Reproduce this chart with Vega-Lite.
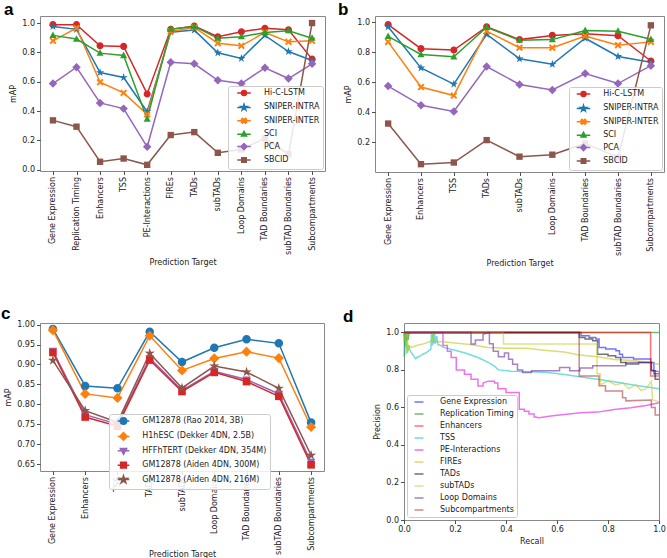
{
"$schema": "https://vega.github.io/schema/vega-lite/v6.json",
"background": "white",
"padding": {"left": 0, "top": 0, "right": 2, "bottom": 0},
"bounds": "flush",
"spacing": 307,
"datasets": {
"a": [
{"method":"Hi-C-LSTM","target":"Gene Expression","mAP":0.989},{"method":"Hi-C-LSTM","target":"Replication Timing","mAP":0.989},{"method":"Hi-C-LSTM","target":"Enhancers","mAP":0.845},{"method":"Hi-C-LSTM","target":"TSS","mAP":0.841},{"method":"Hi-C-LSTM","target":"PE-Interactions","mAP":0.517},{"method":"Hi-C-LSTM","target":"FIREs","mAP":0.957},{"method":"Hi-C-LSTM","target":"TADs","mAP":0.98},{"method":"Hi-C-LSTM","target":"subTADs","mAP":0.907},{"method":"Hi-C-LSTM","target":"Loop Domains","mAP":0.941},{"method":"Hi-C-LSTM","target":"TAD Boundaries","mAP":0.964},{"method":"Hi-C-LSTM","target":"subTAD Boundaries","mAP":0.954},{"method":"Hi-C-LSTM","target":"Subcompartments","mAP":0.754},
{"method":"SNIPER-INTRA","target":"Gene Expression","mAP":0.977},{"method":"SNIPER-INTRA","target":"Replication Timing","mAP":0.957},{"method":"SNIPER-INTRA","target":"Enhancers","mAP":0.663},{"method":"SNIPER-INTRA","target":"TSS","mAP":0.629},{"method":"SNIPER-INTRA","target":"PE-Interactions","mAP":0.396},{"method":"SNIPER-INTRA","target":"FIREs","mAP":0.938},{"method":"SNIPER-INTRA","target":"TADs","mAP":0.952},{"method":"SNIPER-INTRA","target":"subTADs","mAP":0.797},{"method":"SNIPER-INTRA","target":"Loop Domains","mAP":0.759},{"method":"SNIPER-INTRA","target":"TAD Boundaries","mAP":0.916},{"method":"SNIPER-INTRA","target":"subTAD Boundaries","mAP":0.806},{"method":"SNIPER-INTRA","target":"Subcompartments","mAP":0.745},
{"method":"SNIPER-INTER","target":"Gene Expression","mAP":0.879},{"method":"SNIPER-INTER","target":"Replication Timing","mAP":0.966},{"method":"SNIPER-INTER","target":"Enhancers","mAP":0.597},{"method":"SNIPER-INTER","target":"TSS","mAP":0.524},{"method":"SNIPER-INTER","target":"PE-Interactions","mAP":0.378},{"method":"SNIPER-INTER","target":"FIREs","mAP":0.943},{"method":"SNIPER-INTER","target":"TADs","mAP":0.97},{"method":"SNIPER-INTER","target":"subTADs","mAP":0.863},{"method":"SNIPER-INTER","target":"Loop Domains","mAP":0.845},{"method":"SNIPER-INTER","target":"TAD Boundaries","mAP":0.936},{"method":"SNIPER-INTER","target":"subTAD Boundaries","mAP":0.872},{"method":"SNIPER-INTER","target":"Subcompartments","mAP":0.879},
{"method":"SCI","target":"Gene Expression","mAP":0.916},{"method":"SCI","target":"Replication Timing","mAP":0.891},{"method":"SCI","target":"Enhancers","mAP":0.795},{"method":"SCI","target":"TSS","mAP":0.779},{"method":"SCI","target":"PE-Interactions","mAP":0.346},{"method":"SCI","target":"FIREs","mAP":0.959},{"method":"SCI","target":"TADs","mAP":0.977},{"method":"SCI","target":"subTADs","mAP":0.897},{"method":"SCI","target":"Loop Domains","mAP":0.907},{"method":"SCI","target":"TAD Boundaries","mAP":0.936},{"method":"SCI","target":"subTAD Boundaries","mAP":0.948},{"method":"SCI","target":"Subcompartments","mAP":0.897},
{"method":"PCA","target":"Gene Expression","mAP":0.588},{"method":"PCA","target":"Replication Timing","mAP":0.699},{"method":"PCA","target":"Enhancers","mAP":0.456},{"method":"PCA","target":"TSS","mAP":0.417},{"method":"PCA","target":"PE-Interactions","mAP":0.157},{"method":"PCA","target":"FIREs","mAP":0.733},{"method":"PCA","target":"TADs","mAP":0.722},{"method":"PCA","target":"subTADs","mAP":0.61},{"method":"PCA","target":"Loop Domains","mAP":0.588},{"method":"PCA","target":"TAD Boundaries","mAP":0.695},{"method":"PCA","target":"subTAD Boundaries","mAP":0.622},{"method":"PCA","target":"Subcompartments","mAP":0.722},
{"method":"SBCID","target":"Gene Expression","mAP":0.337},{"method":"SBCID","target":"Replication Timing","mAP":0.294},{"method":"SBCID","target":"Enhancers","mAP":0.055},{"method":"SBCID","target":"TSS","mAP":0.077},{"method":"SBCID","target":"PE-Interactions","mAP":0.034},{"method":"SBCID","target":"FIREs","mAP":0.237},{"method":"SBCID","target":"TADs","mAP":0.257},{"method":"SBCID","target":"subTADs","mAP":0.116},{"method":"SBCID","target":"Loop Domains","mAP":0.139},{"method":"SBCID","target":"TAD Boundaries","mAP":0.214},{"method":"SBCID","target":"subTAD Boundaries","mAP":0.107},{"method":"SBCID","target":"Subcompartments","mAP":1.0}
],
"b": [
{"method":"Hi-C-LSTM","target":"Gene Expression","mAP":0.983},{"method":"Hi-C-LSTM","target":"Enhancers","mAP":0.823},{"method":"Hi-C-LSTM","target":"TSS","mAP":0.814},{"method":"Hi-C-LSTM","target":"TADs","mAP":0.968},{"method":"Hi-C-LSTM","target":"subTADs","mAP":0.883},{"method":"Hi-C-LSTM","target":"Loop Domains","mAP":0.911},{"method":"Hi-C-LSTM","target":"TAD Boundaries","mAP":0.922},{"method":"Hi-C-LSTM","target":"subTAD Boundaries","mAP":0.909},{"method":"Hi-C-LSTM","target":"Subcompartments","mAP":0.741},
{"method":"SNIPER-INTRA","target":"Gene Expression","mAP":0.968},{"method":"SNIPER-INTRA","target":"Enhancers","mAP":0.695},{"method":"SNIPER-INTRA","target":"TSS","mAP":0.587},{"method":"SNIPER-INTRA","target":"TADs","mAP":0.918},{"method":"SNIPER-INTRA","target":"subTADs","mAP":0.756},{"method":"SNIPER-INTRA","target":"Loop Domains","mAP":0.719},{"method":"SNIPER-INTRA","target":"TAD Boundaries","mAP":0.892},{"method":"SNIPER-INTRA","target":"subTAD Boundaries","mAP":0.771},{"method":"SNIPER-INTRA","target":"Subcompartments","mAP":0.732},
{"method":"SNIPER-INTER","target":"Gene Expression","mAP":0.868},{"method":"SNIPER-INTER","target":"Enhancers","mAP":0.568},{"method":"SNIPER-INTER","target":"TSS","mAP":0.511},{"method":"SNIPER-INTER","target":"TADs","mAP":0.939},{"method":"SNIPER-INTER","target":"subTADs","mAP":0.829},{"method":"SNIPER-INTER","target":"Loop Domains","mAP":0.829},{"method":"SNIPER-INTER","target":"TAD Boundaries","mAP":0.907},{"method":"SNIPER-INTER","target":"subTAD Boundaries","mAP":0.846},{"method":"SNIPER-INTER","target":"Subcompartments","mAP":0.868},
{"method":"SCI","target":"Gene Expression","mAP":0.905},{"method":"SCI","target":"Enhancers","mAP":0.784},{"method":"SCI","target":"TSS","mAP":0.769},{"method":"SCI","target":"TADs","mAP":0.965},{"method":"SCI","target":"subTADs","mAP":0.879},{"method":"SCI","target":"Loop Domains","mAP":0.883},{"method":"SCI","target":"TAD Boundaries","mAP":0.944},{"method":"SCI","target":"subTAD Boundaries","mAP":0.939},{"method":"SCI","target":"Subcompartments","mAP":0.885},
{"method":"PCA","target":"Gene Expression","mAP":0.574},{"method":"PCA","target":"Enhancers","mAP":0.446},{"method":"PCA","target":"TSS","mAP":0.405},{"method":"PCA","target":"TADs","mAP":0.704},{"method":"PCA","target":"subTADs","mAP":0.585},{"method":"PCA","target":"Loop Domains","mAP":0.548},{"method":"PCA","target":"TAD Boundaries","mAP":0.658},{"method":"PCA","target":"subTAD Boundaries","mAP":0.591},{"method":"PCA","target":"Subcompartments","mAP":0.71},
{"method":"SBCID","target":"Gene Expression","mAP":0.325},{"method":"SBCID","target":"Enhancers","mAP":0.055},{"method":"SBCID","target":"TSS","mAP":0.066},{"method":"SBCID","target":"TADs","mAP":0.215},{"method":"SBCID","target":"subTADs","mAP":0.105},{"method":"SBCID","target":"Loop Domains","mAP":0.118},{"method":"SBCID","target":"TAD Boundaries","mAP":0.193},{"method":"SBCID","target":"subTAD Boundaries","mAP":0.1},{"method":"SBCID","target":"Subcompartments","mAP":0.978}
],
"c": [
{"data":"GM12878 (Rao 2014, 3B)","target":"Gene Expression","mAP":0.989},{"data":"GM12878 (Rao 2014, 3B)","target":"Enhancers","mAP":0.846},{"data":"GM12878 (Rao 2014, 3B)","target":"TSS","mAP":0.84},{"data":"GM12878 (Rao 2014, 3B)","target":"TADs","mAP":0.982},{"data":"GM12878 (Rao 2014, 3B)","target":"subTADs","mAP":0.906},{"data":"GM12878 (Rao 2014, 3B)","target":"Loop Domains","mAP":0.942},{"data":"GM12878 (Rao 2014, 3B)","target":"TAD Boundaries","mAP":0.963},{"data":"GM12878 (Rao 2014, 3B)","target":"subTAD Boundaries","mAP":0.953},{"data":"GM12878 (Rao 2014, 3B)","target":"Subcompartments","mAP":0.754},
{"data":"H1hESC (Dekker 4DN, 2.5B)","target":"Gene Expression","mAP":0.986},{"data":"H1hESC (Dekker 4DN, 2.5B)","target":"Enhancers","mAP":0.826},{"data":"H1hESC (Dekker 4DN, 2.5B)","target":"TSS","mAP":0.816},{"data":"H1hESC (Dekker 4DN, 2.5B)","target":"TADs","mAP":0.972},{"data":"H1hESC (Dekker 4DN, 2.5B)","target":"subTADs","mAP":0.885},{"data":"H1hESC (Dekker 4DN, 2.5B)","target":"Loop Domains","mAP":0.915},{"data":"H1hESC (Dekker 4DN, 2.5B)","target":"TAD Boundaries","mAP":0.932},{"data":"H1hESC (Dekker 4DN, 2.5B)","target":"subTAD Boundaries","mAP":0.916},{"data":"H1hESC (Dekker 4DN, 2.5B)","target":"Subcompartments","mAP":0.743},
{"data":"HFFhTERT (Dekker 4DN, 354M)","target":"Gene Expression","mAP":0.934},{"data":"HFFhTERT (Dekker 4DN, 354M)","target":"Enhancers","mAP":0.774},{"data":"HFFhTERT (Dekker 4DN, 354M)","target":"TSS","mAP":0.75},{"data":"HFFhTERT (Dekker 4DN, 354M)","target":"TADs","mAP":0.916},{"data":"HFFhTERT (Dekker 4DN, 354M)","target":"subTADs","mAP":0.835},{"data":"HFFhTERT (Dekker 4DN, 354M)","target":"Loop Domains","mAP":0.883},{"data":"HFFhTERT (Dekker 4DN, 354M)","target":"TAD Boundaries","mAP":0.862},{"data":"HFFhTERT (Dekker 4DN, 354M)","target":"subTAD Boundaries","mAP":0.826},{"data":"HFFhTERT (Dekker 4DN, 354M)","target":"Subcompartments","mAP":0.655},
{"data":"GM12878 (Aiden 4DN, 300M)","target":"Gene Expression","mAP":0.93},{"data":"GM12878 (Aiden 4DN, 300M)","target":"Enhancers","mAP":0.768},{"data":"GM12878 (Aiden 4DN, 300M)","target":"TSS","mAP":0.745},{"data":"GM12878 (Aiden 4DN, 300M)","target":"TADs","mAP":0.911},{"data":"GM12878 (Aiden 4DN, 300M)","target":"subTADs","mAP":0.832},{"data":"GM12878 (Aiden 4DN, 300M)","target":"Loop Domains","mAP":0.88},{"data":"GM12878 (Aiden 4DN, 300M)","target":"TAD Boundaries","mAP":0.857},{"data":"GM12878 (Aiden 4DN, 300M)","target":"subTAD Boundaries","mAP":0.82},{"data":"GM12878 (Aiden 4DN, 300M)","target":"Subcompartments","mAP":0.648},
{"data":"GM12878 (Aiden 4DN, 216M)","target":"Gene Expression","mAP":0.91},{"data":"GM12878 (Aiden 4DN, 216M)","target":"Enhancers","mAP":0.784},{"data":"GM12878 (Aiden 4DN, 216M)","target":"TSS","mAP":0.755},{"data":"GM12878 (Aiden 4DN, 216M)","target":"TADs","mAP":0.928},{"data":"GM12878 (Aiden 4DN, 216M)","target":"subTADs","mAP":0.841},{"data":"GM12878 (Aiden 4DN, 216M)","target":"Loop Domains","mAP":0.896},{"data":"GM12878 (Aiden 4DN, 216M)","target":"TAD Boundaries","mAP":0.881},{"data":"GM12878 (Aiden 4DN, 216M)","target":"subTAD Boundaries","mAP":0.84},{"data":"GM12878 (Aiden 4DN, 216M)","target":"Subcompartments","mAP":0.672}
],
"d": [
{"s":"Gene Expression","k":0,"r":0,"p":1},{"s":"Gene Expression","k":1,"r":0.694,"p":1},{"s":"Gene Expression","k":2,"r":0.694,"p":0.982},{"s":"Gene Expression","k":3,"r":0.726,"p":0.982},{"s":"Gene Expression","k":4,"r":0.726,"p":0.973},{"s":"Gene Expression","k":5,"r":0.752,"p":0.973},{"s":"Gene Expression","k":6,"r":0.752,"p":0.965},{"s":"Gene Expression","k":7,"r":0.765,"p":0.965},{"s":"Gene Expression","k":8,"r":0.765,"p":0.92},{"s":"Gene Expression","k":9,"r":0.791,"p":0.92},{"s":"Gene Expression","k":10,"r":0.791,"p":0.911},{"s":"Gene Expression","k":11,"r":0.831,"p":0.911},{"s":"Gene Expression","k":12,"r":0.831,"p":0.902},{"s":"Gene Expression","k":13,"r":0.845,"p":0.902},{"s":"Gene Expression","k":14,"r":0.845,"p":0.884},{"s":"Gene Expression","k":15,"r":0.857,"p":0.884},{"s":"Gene Expression","k":16,"r":0.857,"p":0.866},{"s":"Gene Expression","k":17,"r":0.9,"p":0.866},{"s":"Gene Expression","k":18,"r":0.9,"p":0.858},{"s":"Gene Expression","k":19,"r":0.968,"p":0.858},{"s":"Gene Expression","k":20,"r":0.968,"p":0.84},{"s":"Gene Expression","k":21,"r":0.98,"p":0.84},{"s":"Gene Expression","k":22,"r":0.98,"p":0.78},{"s":"Gene Expression","k":23,"r":1,"p":0.78},
{"s":"Replication Timing","k":0,"r":0,"p":1},{"s":"Replication Timing","k":1,"r":0.003,"p":0.93},{"s":"Replication Timing","k":2,"r":0.006,"p":1},{"s":"Replication Timing","k":3,"r":0.009,"p":0.95},{"s":"Replication Timing","k":4,"r":0.012,"p":1},{"s":"Replication Timing","k":5,"r":0.016,"p":0.96},{"s":"Replication Timing","k":6,"r":0.02,"p":1},{"s":"Replication Timing","k":7,"r":1,"p":1},
{"s":"Enhancers","k":0,"r":0,"p":1},{"s":"Enhancers","k":1,"r":0.967,"p":1},{"s":"Enhancers","k":2,"r":0.967,"p":0.768},{"s":"Enhancers","k":3,"r":1,"p":0.768},
{"s":"TSS","k":0,"r":0,"p":0.87},{"s":"TSS","k":1,"r":0.003,"p":1},{"s":"TSS","k":2,"r":0.006,"p":0.92},{"s":"TSS","k":3,"r":0.01,"p":0.98},{"s":"TSS","k":4,"r":0.013,"p":0.89},{"s":"TSS","k":5,"r":0.018,"p":0.93},{"s":"TSS","k":6,"r":0.025,"p":0.9},{"s":"TSS","k":7,"r":0.035,"p":0.88},{"s":"TSS","k":8,"r":0.045,"p":0.86},{"s":"TSS","k":9,"r":0.055,"p":0.87},{"s":"TSS","k":10,"r":0.065,"p":0.875},{"s":"TSS","k":11,"r":0.075,"p":0.885},{"s":"TSS","k":12,"r":0.085,"p":0.89},{"s":"TSS","k":13,"r":0.095,"p":0.9},{"s":"TSS","k":14,"r":0.105,"p":0.91},{"s":"TSS","k":15,"r":0.108,"p":1},{"s":"TSS","k":16,"r":0.111,"p":0.93},{"s":"TSS","k":17,"r":0.114,"p":1},{"s":"TSS","k":18,"r":0.117,"p":0.94},{"s":"TSS","k":19,"r":0.12,"p":1},{"s":"TSS","k":20,"r":0.123,"p":0.94},{"s":"TSS","k":21,"r":0.128,"p":0.98},{"s":"TSS","k":22,"r":0.133,"p":0.935},{"s":"TSS","k":23,"r":0.145,"p":0.93},{"s":"TSS","k":24,"r":0.155,"p":0.92},{"s":"TSS","k":25,"r":0.2,"p":0.905},{"s":"TSS","k":26,"r":0.24,"p":0.89},{"s":"TSS","k":27,"r":0.29,"p":0.866},{"s":"TSS","k":28,"r":0.33,"p":0.84},{"s":"TSS","k":29,"r":0.355,"p":0.82},{"s":"TSS","k":30,"r":0.37,"p":0.8},{"s":"TSS","k":31,"r":0.42,"p":0.793},{"s":"TSS","k":32,"r":0.5,"p":0.79},{"s":"TSS","k":33,"r":0.563,"p":0.786},{"s":"TSS","k":34,"r":0.63,"p":0.775},{"s":"TSS","k":35,"r":0.694,"p":0.762},{"s":"TSS","k":36,"r":0.76,"p":0.75},{"s":"TSS","k":37,"r":0.824,"p":0.737},{"s":"TSS","k":38,"r":0.9,"p":0.72},{"s":"TSS","k":39,"r":1,"p":0.7},
{"s":"PE-Interactions","k":0,"r":0,"p":1},{"s":"PE-Interactions","k":1,"r":0.153,"p":1},{"s":"PE-Interactions","k":2,"r":0.153,"p":0.93},{"s":"PE-Interactions","k":3,"r":0.17,"p":0.93},{"s":"PE-Interactions","k":4,"r":0.17,"p":0.9},{"s":"PE-Interactions","k":5,"r":0.185,"p":0.9},{"s":"PE-Interactions","k":6,"r":0.185,"p":0.866},{"s":"PE-Interactions","k":7,"r":0.205,"p":0.866},{"s":"PE-Interactions","k":8,"r":0.205,"p":0.8},{"s":"PE-Interactions","k":9,"r":0.237,"p":0.8},{"s":"PE-Interactions","k":10,"r":0.237,"p":0.777},{"s":"PE-Interactions","k":11,"r":0.263,"p":0.777},{"s":"PE-Interactions","k":12,"r":0.263,"p":0.75},{"s":"PE-Interactions","k":13,"r":0.29,"p":0.75},{"s":"PE-Interactions","k":14,"r":0.29,"p":0.714},{"s":"PE-Interactions","k":15,"r":0.31,"p":0.714},{"s":"PE-Interactions","k":16,"r":0.31,"p":0.73},{"s":"PE-Interactions","k":17,"r":0.33,"p":0.74},{"s":"PE-Interactions","k":18,"r":0.355,"p":0.74},{"s":"PE-Interactions","k":19,"r":0.355,"p":0.73},{"s":"PE-Interactions","k":20,"r":0.368,"p":0.73},{"s":"PE-Interactions","k":21,"r":0.368,"p":0.7},{"s":"PE-Interactions","k":22,"r":0.4,"p":0.7},{"s":"PE-Interactions","k":23,"r":0.4,"p":0.68},{"s":"PE-Interactions","k":24,"r":0.452,"p":0.68},{"s":"PE-Interactions","k":25,"r":0.452,"p":0.59},{"s":"PE-Interactions","k":26,"r":0.472,"p":0.59},{"s":"PE-Interactions","k":27,"r":0.472,"p":0.58},{"s":"PE-Interactions","k":28,"r":0.49,"p":0.58},{"s":"PE-Interactions","k":29,"r":0.49,"p":0.565},{"s":"PE-Interactions","k":30,"r":0.51,"p":0.565},{"s":"PE-Interactions","k":31,"r":0.51,"p":0.55},{"s":"PE-Interactions","k":32,"r":0.53,"p":0.545},{"s":"PE-Interactions","k":33,"r":0.576,"p":0.554},{"s":"PE-Interactions","k":34,"r":0.628,"p":0.562},{"s":"PE-Interactions","k":35,"r":0.694,"p":0.571},{"s":"PE-Interactions","k":36,"r":0.759,"p":0.575},{"s":"PE-Interactions","k":37,"r":0.824,"p":0.589},{"s":"PE-Interactions","k":38,"r":0.889,"p":0.598},{"s":"PE-Interactions","k":39,"r":0.95,"p":0.61},{"s":"PE-Interactions","k":40,"r":1,"p":0.625},
{"s":"FIREs","k":0,"r":0,"p":0.95},{"s":"FIREs","k":1,"r":0.004,"p":1},{"s":"FIREs","k":2,"r":0.008,"p":0.88},{"s":"FIREs","k":3,"r":0.012,"p":1},{"s":"FIREs","k":4,"r":0.016,"p":0.9},{"s":"FIREs","k":5,"r":0.02,"p":0.93},{"s":"FIREs","k":6,"r":0.03,"p":0.92},{"s":"FIREs","k":7,"r":0.05,"p":0.93},{"s":"FIREs","k":8,"r":0.08,"p":0.94},{"s":"FIREs","k":9,"r":0.11,"p":0.955},{"s":"FIREs","k":10,"r":0.113,"p":1},{"s":"FIREs","k":11,"r":0.116,"p":0.95},{"s":"FIREs","k":12,"r":0.15,"p":0.95},{"s":"FIREs","k":13,"r":0.19,"p":0.945},{"s":"FIREs","k":14,"r":0.26,"p":0.935},{"s":"FIREs","k":15,"r":0.33,"p":0.92},{"s":"FIREs","k":16,"r":0.4,"p":0.915},{"s":"FIREs","k":17,"r":0.48,"p":0.915},{"s":"FIREs","k":18,"r":0.55,"p":0.905},{"s":"FIREs","k":19,"r":0.628,"p":0.895},{"s":"FIREs","k":20,"r":0.687,"p":0.88},{"s":"FIREs","k":21,"r":0.76,"p":0.87},{"s":"FIREs","k":22,"r":0.824,"p":0.855},{"s":"FIREs","k":23,"r":0.9,"p":0.85},{"s":"FIREs","k":24,"r":0.96,"p":0.84},{"s":"FIREs","k":25,"r":1,"p":0.83},
{"s":"TADs","k":0,"r":0,"p":1},{"s":"TADs","k":1,"r":0.687,"p":1},{"s":"TADs","k":2,"r":0.687,"p":0.973},{"s":"TADs","k":3,"r":0.71,"p":0.973},{"s":"TADs","k":4,"r":0.71,"p":0.965},{"s":"TADs","k":5,"r":0.74,"p":0.965},{"s":"TADs","k":6,"r":0.74,"p":0.956},{"s":"TADs","k":7,"r":0.759,"p":0.956},{"s":"TADs","k":8,"r":0.759,"p":0.884},{"s":"TADs","k":9,"r":0.8,"p":0.884},{"s":"TADs","k":10,"r":0.8,"p":0.875},{"s":"TADs","k":11,"r":0.83,"p":0.875},{"s":"TADs","k":12,"r":0.83,"p":0.866},{"s":"TADs","k":13,"r":0.85,"p":0.866},{"s":"TADs","k":14,"r":0.85,"p":0.84},{"s":"TADs","k":15,"r":0.87,"p":0.84},{"s":"TADs","k":16,"r":0.87,"p":0.831},{"s":"TADs","k":17,"r":0.92,"p":0.831},{"s":"TADs","k":18,"r":0.92,"p":0.84},{"s":"TADs","k":19,"r":0.97,"p":0.84},{"s":"TADs","k":20,"r":0.97,"p":0.795},{"s":"TADs","k":21,"r":0.985,"p":0.795},{"s":"TADs","k":22,"r":0.985,"p":0.75},{"s":"TADs","k":23,"r":1,"p":0.75},
{"s":"subTADs","k":0,"r":0,"p":1},{"s":"subTADs","k":1,"r":0.39,"p":1},{"s":"subTADs","k":2,"r":0.39,"p":0.938},{"s":"subTADs","k":3,"r":0.757,"p":0.938},{"s":"subTADs","k":4,"r":0.757,"p":0.78},{"s":"subTADs","k":5,"r":0.77,"p":0.78},{"s":"subTADs","k":6,"r":0.77,"p":0.72},{"s":"subTADs","k":7,"r":0.8,"p":0.74},{"s":"subTADs","k":8,"r":0.83,"p":0.72},{"s":"subTADs","k":9,"r":0.86,"p":0.73},{"s":"subTADs","k":10,"r":0.88,"p":0.7},{"s":"subTADs","k":11,"r":0.91,"p":0.72},{"s":"subTADs","k":12,"r":0.93,"p":0.69},{"s":"subTADs","k":13,"r":0.95,"p":0.7},{"s":"subTADs","k":14,"r":0.97,"p":0.74},{"s":"subTADs","k":15,"r":0.975,"p":0.64},{"s":"subTADs","k":16,"r":1,"p":0.63},
{"s":"Loop Domains","k":0,"r":0,"p":1},{"s":"Loop Domains","k":1,"r":0.263,"p":1},{"s":"Loop Domains","k":2,"r":0.263,"p":0.9375},{"s":"Loop Domains","k":3,"r":0.28,"p":0.9375},{"s":"Loop Domains","k":4,"r":0.28,"p":0.96},{"s":"Loop Domains","k":5,"r":0.31,"p":0.96},{"s":"Loop Domains","k":6,"r":0.31,"p":0.99},{"s":"Loop Domains","k":7,"r":0.335,"p":1},{"s":"Loop Domains","k":8,"r":0.335,"p":0.94},{"s":"Loop Domains","k":9,"r":0.35,"p":0.94},{"s":"Loop Domains","k":10,"r":0.35,"p":0.9},{"s":"Loop Domains","k":11,"r":0.37,"p":0.9},{"s":"Loop Domains","k":12,"r":0.37,"p":0.87},{"s":"Loop Domains","k":13,"r":0.394,"p":0.87},{"s":"Loop Domains","k":14,"r":0.394,"p":0.89},{"s":"Loop Domains","k":15,"r":0.41,"p":0.89},{"s":"Loop Domains","k":16,"r":0.41,"p":0.857},{"s":"Loop Domains","k":17,"r":0.426,"p":0.857},{"s":"Loop Domains","k":18,"r":0.426,"p":0.83},{"s":"Loop Domains","k":19,"r":0.445,"p":0.83},{"s":"Loop Domains","k":20,"r":0.445,"p":0.8},{"s":"Loop Domains","k":21,"r":0.465,"p":0.8},{"s":"Loop Domains","k":22,"r":0.465,"p":0.786},{"s":"Loop Domains","k":23,"r":0.5,"p":0.786},{"s":"Loop Domains","k":24,"r":0.5,"p":0.795},{"s":"Loop Domains","k":25,"r":0.61,"p":0.795},{"s":"Loop Domains","k":26,"r":0.61,"p":0.813},{"s":"Loop Domains","k":27,"r":0.65,"p":0.813},{"s":"Loop Domains","k":28,"r":0.65,"p":0.795},{"s":"Loop Domains","k":29,"r":0.69,"p":0.795},{"s":"Loop Domains","k":30,"r":0.69,"p":0.81},{"s":"Loop Domains","k":31,"r":0.74,"p":0.81},{"s":"Loop Domains","k":32,"r":0.74,"p":0.822},{"s":"Loop Domains","k":33,"r":0.87,"p":0.822},{"s":"Loop Domains","k":34,"r":0.87,"p":0.84},{"s":"Loop Domains","k":35,"r":0.97,"p":0.84},{"s":"Loop Domains","k":36,"r":0.97,"p":0.8},{"s":"Loop Domains","k":37,"r":1,"p":0.79},
{"s":"Subcompartments","k":0,"r":0,"p":1},{"s":"Subcompartments","k":1,"r":0.687,"p":1},{"s":"Subcompartments","k":2,"r":0.687,"p":0.768},{"s":"Subcompartments","k":3,"r":0.765,"p":0.768},{"s":"Subcompartments","k":4,"r":0.765,"p":0.715},{"s":"Subcompartments","k":5,"r":0.79,"p":0.715},{"s":"Subcompartments","k":6,"r":0.79,"p":0.688},{"s":"Subcompartments","k":7,"r":0.857,"p":0.688},{"s":"Subcompartments","k":8,"r":0.857,"p":0.652},{"s":"Subcompartments","k":9,"r":0.87,"p":0.652},{"s":"Subcompartments","k":10,"r":0.87,"p":0.635},{"s":"Subcompartments","k":11,"r":0.97,"p":0.64},{"s":"Subcompartments","k":12,"r":0.97,"p":0.6},{"s":"Subcompartments","k":13,"r":0.985,"p":0.6},{"s":"Subcompartments","k":14,"r":0.985,"p":0.56},{"s":"Subcompartments","k":15,"r":1,"p":0.56}
]
},
"vconcat": [
{
"hconcat": [
{
"title": {"text": "a", "dx": -36},
"width": 285, "height": 155,
"data": {"name": "a"},
"encoding": {
"x": {"field": "target", "type": "nominal", "sort": ["Gene Expression","Replication Timing","Enhancers","TSS","PE-Interactions","FIREs","TADs","subTADs","Loop Domains","TAD Boundaries","subTAD Boundaries","Subcompartments"], "scale": {"type": "point", "padding": 0.55}, "axis": {"title": "Prediction Target", "labelAngle": -90}},
"y": {"field": "mAP", "type": "quantitative", "scale": {"domain": [-0.008, 1.048], "nice": false, "zero": false}, "axis": {"title": "mAP", "values": [0, 0.2, 0.4, 0.6, 0.8, 1.0], "format": ".1f"}}
},
"layer": [
{"mark": {"type": "line", "strokeWidth": 1.5},
"encoding": {"color": {"field": "method", "type": "nominal", "scale": {"domain": ["Hi-C-LSTM","SNIPER-INTRA","SNIPER-INTER","SCI","PCA","SBCID"], "range": ["#d62728","#1f77b4","#ff7f0e","#2ca02c","#9467bd","#8c564b"]}, "legend": null}}},
{"mark": {"type": "point", "filled": true, "opacity": 1, "size": 50},
"encoding": {
"color": {"field": "method", "type": "nominal", "legend": null},
"shape": {"field": "method", "type": "nominal", "sort": ["Hi-C-LSTM","SNIPER-INTRA","SNIPER-INTER","SCI","PCA","SBCID"], "scale": {"range": ["M-1,0A1,1,0,1,1,1,0A1,1,0,1,1,-1,0Z","M0,-1.25L0.28,-0.38L1.19,-0.39L0.45,0.15L0.73,1.01L0,0.48L-0.73,1.01L-0.45,0.15L-1.19,-0.39L-0.28,-0.38Z","M-1,-0.6L-0.6,-1L0,-0.4L0.6,-1L1,-0.6L0.4,0L1,0.6L0.6,1L0,0.4L-0.6,1L-1,0.6L-0.4,0Z","M0,-1.1L1,0.75L-1,0.75Z","M0,-1.2L1.2,0L0,1.2L-1.2,0Z","M-0.9,-0.9L0.9,-0.9L0.9,0.9L-0.9,0.9Z"]}, "legend": null}
}},
{"mark": {"type": "point", "filled": true, "opacity": 0, "size": 50},
"encoding": {
"shape": {"field": "method", "type": "nominal", "scale": {"domain": ["Hi-C-LSTM","SNIPER-INTRA","SNIPER-INTER","SCI","PCA","SBCID"], "range": ["M-2.7,0L2.7,0M-1,0A1,1,0,1,1,1,0A1,1,0,1,1,-1,0Z","M-2.7,0L2.7,0M0,-1.25L0.28,-0.38L1.19,-0.39L0.45,0.15L0.73,1.01L0,0.48L-0.73,1.01L-0.45,0.15L-1.19,-0.39L-0.28,-0.38Z","M-2.7,0L2.7,0M-1,-0.6L-0.6,-1L0,-0.4L0.6,-1L1,-0.6L0.4,0L1,0.6L0.6,1L0,0.4L-0.6,1L-1,0.6L-0.4,0Z","M-2.7,0L2.7,0M0,-1.1L1,0.75L-1,0.75Z","M-2.7,0L2.7,0M0,-1.2L1.2,0L0,1.2L-1.2,0Z","M-2.7,0L2.7,0M-0.9,-0.9L0.9,-0.9L0.9,0.9L-0.9,0.9Z"]},
"legend": {"title": null, "orient": "bottom-right", "offset": 2, "symbolSize": 25, "symbolStrokeWidth": 1.5, "symbolOpacity": 1, "symbolOffset": 9, "labelOffset": 16, "rowPadding": 1.4}},
"fill": {"field": "method", "type": "nominal", "scale": {"domain": ["Hi-C-LSTM","SNIPER-INTRA","SNIPER-INTER","SCI","PCA","SBCID"], "range": ["#d62728","#1f77b4","#ff7f0e","#2ca02c","#9467bd","#8c564b"]},
"legend": {"title": null, "orient": "bottom-right", "offset": 2, "symbolSize": 25, "symbolStrokeWidth": 1.5, "symbolOpacity": 1, "symbolOffset": 9, "labelOffset": 16, "rowPadding": 1.4}},
"stroke": {"field": "method", "type": "nominal", "scale": {"domain": ["Hi-C-LSTM","SNIPER-INTRA","SNIPER-INTER","SCI","PCA","SBCID"], "range": ["#d62728","#1f77b4","#ff7f0e","#2ca02c","#9467bd","#8c564b"]},
"legend": {"title": null, "orient": "bottom-right", "offset": 2, "symbolSize": 25, "symbolStrokeWidth": 1.5, "symbolOpacity": 1, "symbolOffset": 9, "labelOffset": 16, "rowPadding": 1.4}}
}}
],
"resolve": {"scale": {"shape": "independent", "fill": "independent", "stroke": "independent"}, "legend": {"shape": "independent", "fill": "independent", "stroke": "independent"}}
},
{
"title": {"text": "b", "dx": -37},
"width": 289, "height": 156,
"data": {"name": "b"},
"encoding": {
"x": {"field": "target", "type": "nominal", "sort": ["Gene Expression","Enhancers","TSS","TADs","subTADs","Loop Domains","TAD Boundaries","subTAD Boundaries","Subcompartments"], "scale": {"type": "point", "padding": 0.4}, "axis": {"title": "Prediction Target", "labelAngle": -90}},
"y": {"field": "mAP", "type": "quantitative", "scale": {"domain": [0.003, 1.04], "nice": false, "zero": false}, "axis": {"title": "mAP", "values": [0.2, 0.4, 0.6, 0.8, 1.0], "format": ".1f"}}
},
"layer": [
{"mark": {"type": "line", "strokeWidth": 1.5},
"encoding": {"color": {"field": "method", "type": "nominal", "scale": {"domain": ["Hi-C-LSTM","SNIPER-INTRA","SNIPER-INTER","SCI","PCA","SBCID"], "range": ["#d62728","#1f77b4","#ff7f0e","#2ca02c","#9467bd","#8c564b"]}, "legend": null}}},
{"mark": {"type": "point", "filled": true, "opacity": 1, "size": 50},
"encoding": {
"color": {"field": "method", "type": "nominal", "legend": null},
"shape": {"field": "method", "type": "nominal", "sort": ["Hi-C-LSTM","SNIPER-INTRA","SNIPER-INTER","SCI","PCA","SBCID"], "scale": {"range": ["M-1,0A1,1,0,1,1,1,0A1,1,0,1,1,-1,0Z","M0,-1.25L0.28,-0.38L1.19,-0.39L0.45,0.15L0.73,1.01L0,0.48L-0.73,1.01L-0.45,0.15L-1.19,-0.39L-0.28,-0.38Z","M-1,-0.6L-0.6,-1L0,-0.4L0.6,-1L1,-0.6L0.4,0L1,0.6L0.6,1L0,0.4L-0.6,1L-1,0.6L-0.4,0Z","M0,-1.1L1,0.75L-1,0.75Z","M0,-1.2L1.2,0L0,1.2L-1.2,0Z","M-0.9,-0.9L0.9,-0.9L0.9,0.9L-0.9,0.9Z"]}, "legend": null}
}},
{"mark": {"type": "point", "filled": true, "opacity": 0, "size": 50},
"encoding": {
"shape": {"field": "method", "type": "nominal", "scale": {"domain": ["Hi-C-LSTM","SNIPER-INTRA","SNIPER-INTER","SCI","PCA","SBCID"], "range": ["M-2.7,0L2.7,0M-1,0A1,1,0,1,1,1,0A1,1,0,1,1,-1,0Z","M-2.7,0L2.7,0M0,-1.25L0.28,-0.38L1.19,-0.39L0.45,0.15L0.73,1.01L0,0.48L-0.73,1.01L-0.45,0.15L-1.19,-0.39L-0.28,-0.38Z","M-2.7,0L2.7,0M-1,-0.6L-0.6,-1L0,-0.4L0.6,-1L1,-0.6L0.4,0L1,0.6L0.6,1L0,0.4L-0.6,1L-1,0.6L-0.4,0Z","M-2.7,0L2.7,0M0,-1.1L1,0.75L-1,0.75Z","M-2.7,0L2.7,0M0,-1.2L1.2,0L0,1.2L-1.2,0Z","M-2.7,0L2.7,0M-0.9,-0.9L0.9,-0.9L0.9,0.9L-0.9,0.9Z"]},
"legend": {"title": null, "orient": "bottom-right", "offset": 2, "symbolSize": 25, "symbolStrokeWidth": 1.5, "symbolOpacity": 1, "symbolOffset": 7.5, "labelOffset": 15.7, "rowPadding": 1.4}},
"fill": {"field": "method", "type": "nominal", "scale": {"domain": ["Hi-C-LSTM","SNIPER-INTRA","SNIPER-INTER","SCI","PCA","SBCID"], "range": ["#d62728","#1f77b4","#ff7f0e","#2ca02c","#9467bd","#8c564b"]},
"legend": {"title": null, "orient": "bottom-right", "offset": 2, "symbolSize": 25, "symbolStrokeWidth": 1.5, "symbolOpacity": 1, "symbolOffset": 7.5, "labelOffset": 15.7, "rowPadding": 1.4}},
"stroke": {"field": "method", "type": "nominal", "scale": {"domain": ["Hi-C-LSTM","SNIPER-INTRA","SNIPER-INTER","SCI","PCA","SBCID"], "range": ["#d62728","#1f77b4","#ff7f0e","#2ca02c","#9467bd","#8c564b"]},
"legend": {"title": null, "orient": "bottom-right", "offset": 2, "symbolSize": 25, "symbolStrokeWidth": 1.5, "symbolOpacity": 1, "symbolOffset": 7.5, "labelOffset": 15.7, "rowPadding": 1.4}}
}}
],
"resolve": {"scale": {"shape": "independent", "fill": "independent", "stroke": "independent"}, "legend": {"shape": "independent", "fill": "independent", "stroke": "independent"}}
}
],
"spacing": 50,
"bounds": "flush",
"resolve": {"scale": {"color": "independent", "shape": "independent", "fill": "independent", "stroke": "independent", "x": "independent", "y": "independent"}, "legend": {"color": "independent", "shape": "independent", "fill": "independent", "stroke": "independent"}}
},
{
"hconcat": [
{
"title": {"text": "c", "dx": -39},
"width": 284, "height": 148,
"data": {"name": "c"},
"encoding": {
"x": {"field": "target", "type": "nominal", "sort": ["Gene Expression","Enhancers","TSS","TADs","subTADs","Loop Domains","TAD Boundaries","subTAD Boundaries","Subcompartments"], "scale": {"type": "point", "padding": 0.4}, "axis": {"title": "Prediction Target", "labelAngle": -90, "titlePadding": -4}},
"y": {"field": "mAP", "type": "quantitative", "scale": {"domain": [0.6325, 1.004], "nice": false, "zero": false}, "axis": {"title": "mAP", "values": [0.65, 0.7, 0.75, 0.8, 0.85, 0.9, 0.95, 1.0], "format": ".2f"}}
},
"layer": [
{"mark": {"type": "line", "strokeWidth": 1.5},
"encoding": {"color": {"field": "data", "type": "nominal", "scale": {"domain": ["GM12878 (Rao 2014, 3B)","H1hESC (Dekker 4DN, 2.5B)","HFFhTERT (Dekker 4DN, 354M)","GM12878 (Aiden 4DN, 300M)","GM12878 (Aiden 4DN, 216M)"], "range": ["#1f77b4","#ff7f0e","#9467bd","#d62728","#8c564b"]}, "legend": null}}},
{"mark": {"type": "point", "filled": true, "opacity": 1, "size": 72},
"encoding": {
"color": {"field": "data", "type": "nominal", "legend": null},
"shape": {"field": "data", "type": "nominal", "sort": ["GM12878 (Rao 2014, 3B)","H1hESC (Dekker 4DN, 2.5B)","HFFhTERT (Dekker 4DN, 354M)","GM12878 (Aiden 4DN, 300M)","GM12878 (Aiden 4DN, 216M)"], "scale": {"range": ["M-1,0A1,1,0,1,1,1,0A1,1,0,1,1,-1,0Z","M0,-1.2L1.2,0L0,1.2L-1.2,0Z","M0,1.1L1,-0.75L-1,-0.75Z","M-0.9,-0.9L0.9,-0.9L0.9,0.9L-0.9,0.9Z","M0,-1.25L0.28,-0.38L1.19,-0.39L0.45,0.15L0.73,1.01L0,0.48L-0.73,1.01L-0.45,0.15L-1.19,-0.39L-0.28,-0.38Z"]}, "legend": null}
}},
{"mark": {"type": "point", "filled": true, "opacity": 0, "size": 72},
"encoding": {
"shape": {"field": "data", "type": "nominal", "scale": {"domain": ["GM12878 (Rao 2014, 3B)","H1hESC (Dekker 4DN, 2.5B)","HFFhTERT (Dekker 4DN, 354M)","GM12878 (Aiden 4DN, 300M)","GM12878 (Aiden 4DN, 216M)"], "range": ["M-2.2,0L2.2,0M-1.2,0A1.2,1.2,0,1,1,1.2,0A1.2,1.2,0,1,1,-1.2,0Z","M-2.2,0L2.2,0M0,-1.44L1.44,0L0,1.44L-1.44,0Z","M-2.2,0L2.2,0M0,1.32L1.2,-0.9L-1.2,-0.9Z","M-2.2,0L2.2,0M-1.08,-1.08L1.08,-1.08L1.08,1.08L-1.08,1.08Z","M-2.2,0L2.2,0M0,-1.5L0.336,-0.456L1.428,-0.468L0.54,0.18L0.876,1.212L0,0.576L-0.876,1.212L-0.54,0.18L-1.428,-0.468L-0.336,-0.456Z"]},
"legend": {"title": null, "orient": "none", "legendX": 69, "legendY": 91, "symbolSize": 28, "symbolStrokeWidth": 1.5, "symbolOpacity": 1, "symbolOffset": 7.5, "labelOffset": 14.7, "rowPadding": 1.4}},
"fill": {"field": "data", "type": "nominal", "scale": {"domain": ["GM12878 (Rao 2014, 3B)","H1hESC (Dekker 4DN, 2.5B)","HFFhTERT (Dekker 4DN, 354M)","GM12878 (Aiden 4DN, 300M)","GM12878 (Aiden 4DN, 216M)"], "range": ["#1f77b4","#ff7f0e","#9467bd","#d62728","#8c564b"]},
"legend": {"title": null, "orient": "none", "legendX": 69, "legendY": 91, "symbolSize": 28, "symbolStrokeWidth": 1.5, "symbolOpacity": 1, "symbolOffset": 7.5, "labelOffset": 14.7, "rowPadding": 1.4}},
"stroke": {"field": "data", "type": "nominal", "scale": {"domain": ["GM12878 (Rao 2014, 3B)","H1hESC (Dekker 4DN, 2.5B)","HFFhTERT (Dekker 4DN, 354M)","GM12878 (Aiden 4DN, 300M)","GM12878 (Aiden 4DN, 216M)"], "range": ["#1f77b4","#ff7f0e","#9467bd","#d62728","#8c564b"]},
"legend": {"title": null, "orient": "none", "legendX": 69, "legendY": 91, "symbolSize": 28, "symbolStrokeWidth": 1.5, "symbolOpacity": 1, "symbolOffset": 7.5, "labelOffset": 14.7, "rowPadding": 1.4}}
}}
],
"resolve": {"scale": {"shape": "independent", "fill": "independent", "stroke": "independent"}, "legend": {"shape": "independent", "fill": "independent", "stroke": "independent"}}
},
{
"title": {"text": "d", "dx": -61},
"width": 255, "height": 197,
"data": {"name": "d"},
"mark": {"type": "line", "strokeWidth": 1.5, "opacity": 0.55},
"encoding": {
"x": {"field": "r", "type": "quantitative", "scale": {"domain": [0, 1], "nice": false, "zero": false}, "axis": {"title": "Recall", "values": [0, 0.2, 0.4, 0.6, 0.8, 1.0], "format": ".1f"}},
"y": {"field": "p", "type": "quantitative", "scale": {"domain": [0, 1.05], "nice": false, "zero": false}, "axis": {"title": "Precision", "values": [0, 0.2, 0.4, 0.6, 0.8, 1.0], "format": ".1f"}},
"order": {"field": "k", "type": "quantitative"},
"color": {"field": "s", "type": "nominal", "scale": {"domain": ["Gene Expression","Replication Timing","Enhancers","TSS","PE-Interactions","FIREs","TADs","subTADs","Loop Domains","Subcompartments"], "range": ["#0000ff","#008000","#ff0000","#00bfbf","#dd00dd","#bfbf00","#000000","#c8c830","#5a1a9a","#a52a2a"]},
"legend": {"title": null, "orient": "bottom-left", "offset": 3, "symbolType": "M-1.5,0L1.5,0", "symbolSize": 36, "symbolStrokeWidth": 1.5, "symbolOffset": 5, "labelOffset": 17, "rowPadding": 4, "symbolOpacity": 0.55}}
}
}
],
"spacing": 80,
"bounds": "flush",
"resolve": {"scale": {"color": "independent", "shape": "independent", "fill": "independent", "stroke": "independent", "x": "independent", "y": "independent"}, "legend": {"color": "independent", "shape": "independent", "fill": "independent", "stroke": "independent"}}
}
],
"resolve": {"scale": {"color": "independent", "shape": "independent", "fill": "independent", "stroke": "independent", "x": "independent", "y": "independent"}, "legend": {"color": "independent", "shape": "independent", "fill": "independent", "stroke": "independent"}},
"config": {
"font": "DejaVu Sans",
"view": {"stroke": "#888", "strokeWidth": 1},
"axis": {"grid": false, "domain": false, "tickColor": "#222", "tickSize": 3.5, "tickWidth": 0.8, "labelFont": "DejaVu Sans", "labelFontSize": 8, "labelColor": "#222", "titleFont": "DejaVu Sans", "titleFontSize": 8, "titleFontWeight": "normal", "titleColor": "#222", "labelPadding": 2, "titlePadding": 4, "labelFlush": false, "labelOverlap": false},
"legend": {"labelFont": "DejaVu Sans", "labelFontSize": 8, "labelColor": "#222", "strokeColor": "#ccc", "fillColor": "rgba(255,255,255,0.85)", "padding": 3, "cornerRadius": 2, "labelLimit": 300},
"title": {"font": "Liberation Sans", "fontSize": 17, "fontWeight": "bold", "anchor": "start", "frame": "group", "offset": -2.6, "color": "#000"}
}
}
